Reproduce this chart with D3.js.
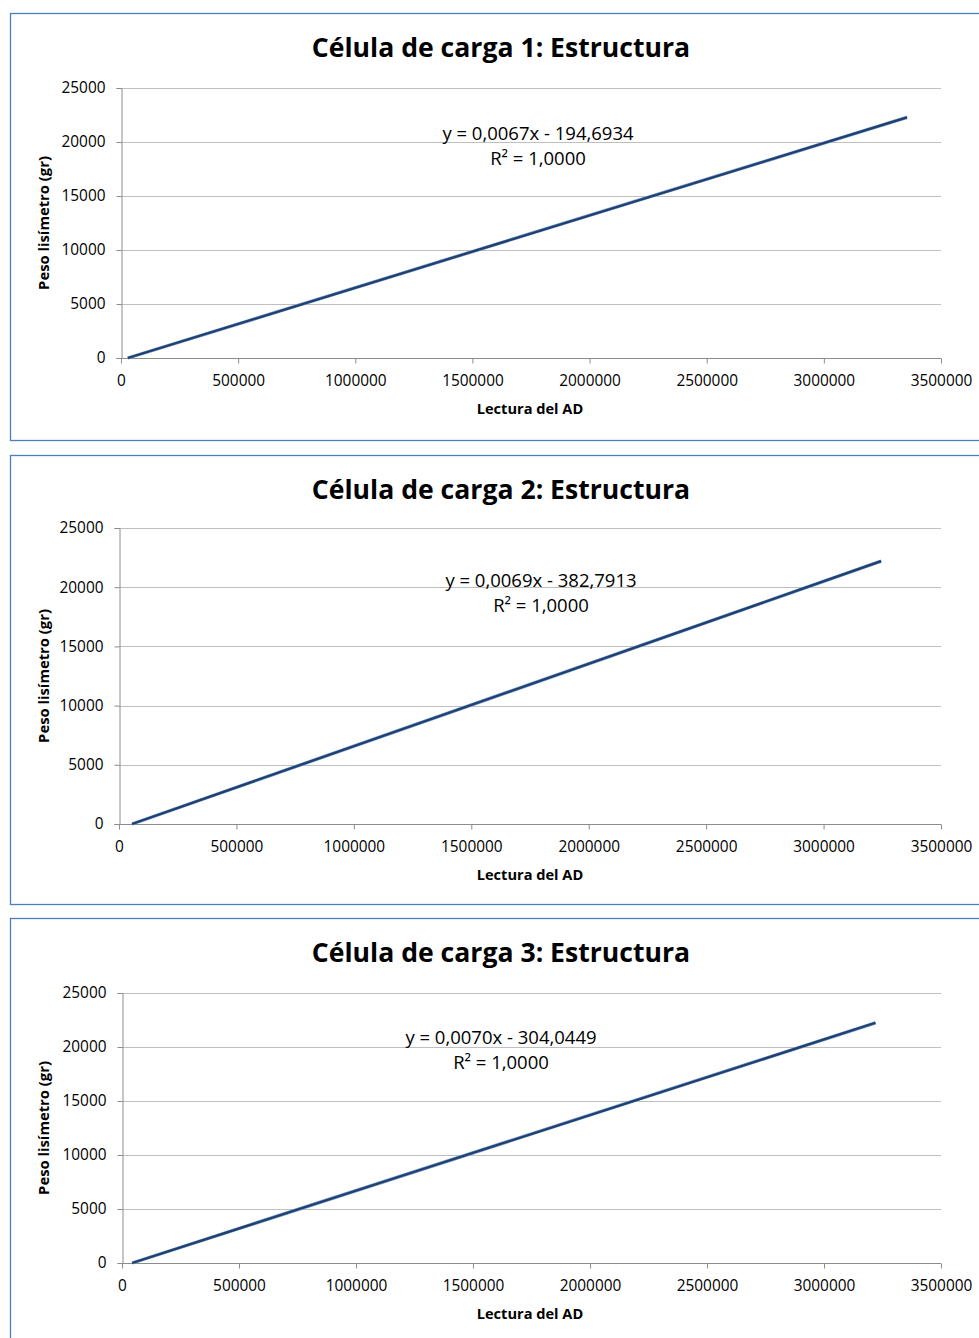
<!DOCTYPE html>
<html>
<head>
<meta charset="utf-8">
<script src="https://cdn.jsdelivr.net/npm/d3@7"></script>
<style>
  body { margin: 0; background: #fff; }
  text { font-family: "Open Sans", "Noto Sans", sans-serif; }
</style>
</head>
<body>
<svg width="979" height="1338"></svg>
<script>
// datos: lectura del AD vs peso (gr)
var titles = ["Célula de carga 1: Estructura", "Célula de carga 2: Estructura", "Célula de carga 3: Estructura"];
var lectura1 = [29000, 3355000];
var peso1 = [0, 22280];
var lectura2 = [55500, 3245000];
var peso2 = [0, 22200];
var lectura3 = [43400, 3220000];
var peso3 = [0, 22240];
var ecuaciones = ["y = 0,0067x - 194,6934", "y = 0,0069x - 382,7913", "y = 0,0070x - 304,0449"];
var r2 = ["R² = 1,0000", "R² = 1,0000", "R² = 1,0000"];
var xTicks = [0, 500000, 1000000, 1500000, 2000000, 2500000, 3000000, 3500000];
var yTicks = [0, 5000, 10000, 15000, 20000, 25000];

var svg = d3.select("svg");

var charts = [
  { fy: 13, fh: 427, l: 121, r: 941, t: 88, b: 358, eqx: 538, eqy: 133, xs: lectura1, ys: peso1 },
  { fy: 455, fh: 449, l: 119, r: 941, t: 528, b: 824, eqx: 541, eqy: 580, xs: lectura2, ys: peso2 },
  { fy: 918, fh: 440, l: 122, r: 941, t: 993, b: 1263, eqx: 501, eqy: 1037, xs: lectura3, ys: peso3 }
];

charts.forEach(function (c, i) {
  var g = svg.append("g");

  g.append("rect")
    .attr("x", 10.5).attr("y", c.fy + 0.5)
    .attr("width", 990).attr("height", c.fh)
    .attr("fill", "none").attr("stroke", "#4a7ebb").attr("stroke-width", 1.3);

  var scX = d3.scaleLinear().domain([0, 3500000]).range([c.l, c.r]);
  var scY = d3.scaleLinear().domain([0, 25000]).range([c.b, c.t]);

  // lineas de cuadricula
  g.append("g").selectAll("line")
    .data(yTicks.slice(1)).enter().append("line")
    .attr("x1", c.l).attr("x2", c.r)
    .attr("y1", d => Math.round(scY(d)) + 0.5).attr("y2", d => Math.round(scY(d)) + 0.5)
    .attr("stroke", "#bfbfbf").attr("stroke-width", 1);

  var axY = g.append("g").attr("transform", "translate(" + (c.l + 0.5) + ",0)")
    .call(d3.axisLeft(scY).tickValues(yTicks).tickSize(5).tickPadding(11).tickFormat(d3.format("d")));
  var axX = g.append("g").attr("transform", "translate(0," + (c.b + 0.5) + ")")
    .call(d3.axisBottom(scX).tickValues(xTicks).tickSize(5).tickPadding(12).tickFormat(d3.format("d")));

  [axY, axX].forEach(function (ax) {
    ax.select(".domain").attr("stroke", "#8c8c8c");
    ax.selectAll(".tick line").attr("stroke", "#8c8c8c");
    ax.selectAll(".tick text").attr("fill", "#000").style("font-size", "15.4px")
      .style("font-family", "'Open Sans', sans-serif");
  });
  axX.select(".domain").attr("d", "M" + c.l + ",0H" + c.r);

  var pts = c.xs.map((x, k) => [x, c.ys[k]]);
  g.append("path")
    .attr("fill", "none").attr("stroke", "#6f95c6").attr("stroke-width", 3.4)
    .attr("d", d3.line().x(d => scX(d[0])).y(d => scY(d[1]))(pts));
  g.append("path")
    .attr("fill", "none").attr("stroke", "#1f3f6e").attr("stroke-width", 2.2)
    .attr("d", d3.line().x(d => scX(d[0])).y(d => scY(d[1]))(pts));

  g.append("text")
    .attr("x", 501).attr("y", c.fy + 44)
    .attr("text-anchor", "middle")
    .style("font-size", "26.6px").style("font-weight", "bold")
    .text(titles[i]);

  g.append("text")
    .attr("x", c.eqx).attr("y", c.eqy + 7)
    .attr("text-anchor", "middle").style("font-size", "18.5px")
    .text(ecuaciones[i]);
  g.append("text")
    .attr("x", c.eqx).attr("y", c.eqy + 32)
    .attr("text-anchor", "middle").style("font-size", "18.5px")
    .text(r2[i]);

  g.append("text")
    .attr("x", 530).attr("y", c.b + 56)
    .attr("text-anchor", "middle")
    .style("font-size", "14.6px").style("font-weight", "bold")
    .text("Lectura del AD");

  g.append("text")
    .attr("transform", "translate(49," + ((c.t + c.b) / 2) + ") rotate(-90)")
    .attr("text-anchor", "middle")
    .style("font-size", "14.8px").style("font-weight", "bold")
    .text("Peso lisímetro (gr)");
});
</script>
</body>
</html>
